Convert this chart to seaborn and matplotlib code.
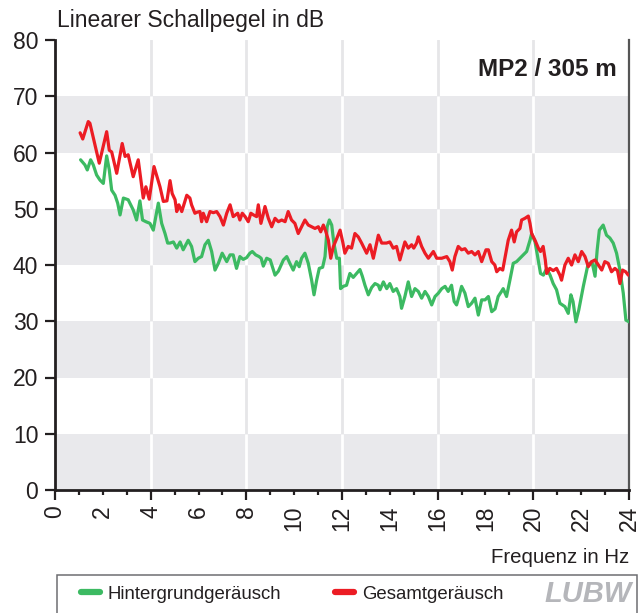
import matplotlib
matplotlib.use("Agg")
import matplotlib.pyplot as plt
from matplotlib.patches import Rectangle
from matplotlib.ticker import MultipleLocator, FuncFormatter
import pandas as pd
import seaborn as sns

# Frequency (Hz) and linear sound level (dB) of the background noise
freq_bg = [1.07, 1.25, 1.35, 1.49, 1.60, 1.74, 1.88, 2.02, 2.16, 2.27,
           2.37, 2.51, 2.62, 2.72, 2.86, 3.06, 3.27, 3.41, 3.55, 3.66,
           3.80, 3.97, 4.11, 4.32, 4.46, 4.60, 4.71, 4.81, 4.95, 5.09,
           5.23, 5.36, 5.57, 5.71, 5.85, 5.99, 6.13, 6.27, 6.41, 6.55,
           6.69, 6.83, 6.99, 7.18, 7.32, 7.45, 7.59, 7.73, 7.87, 8.01,
           8.15, 8.25, 8.39, 8.53, 8.62, 8.71, 8.85, 9.00, 9.20, 9.34,
           9.55, 9.69, 9.82, 9.96, 10.10, 10.21, 10.31, 10.45, 10.59, 10.73,
           10.83, 10.94, 11.05, 11.19, 11.29, 11.38, 11.47, 11.57, 11.66, 11.78,
           11.89, 11.94, 12.05, 12.19, 12.33, 12.47, 12.61, 12.75, 12.85, 12.96,
           13.10, 13.24, 13.38, 13.52, 13.59, 13.73, 13.87, 14.00, 14.14, 14.28,
           14.42, 14.49, 14.63, 14.77, 14.91, 15.05, 15.19, 15.33, 15.47, 15.61,
           15.75, 15.89, 16.03, 16.17, 16.31, 16.44, 16.58, 16.69, 16.79, 16.90,
           17.00, 17.14, 17.28, 17.42, 17.56, 17.70, 17.84, 17.98, 18.12, 18.26,
           18.40, 18.53, 18.67, 18.74, 18.88, 19.02, 19.16, 19.30, 19.44, 19.58,
           19.72, 19.86, 19.93, 20.07, 20.18, 20.30, 20.42, 20.56, 20.70, 20.83,
           20.97, 21.11, 21.32, 21.46, 21.57, 21.66, 21.78, 21.90, 22.09, 22.28,
           22.45, 22.58, 22.67, 22.76, 22.92, 23.06, 23.20, 23.34, 23.48, 23.62,
           23.76, 23.87, 24.00]
level_bg = [58.7, 57.8, 56.9, 58.7, 57.8, 56.0, 55.1, 54.5, 59.4, 56.9,
            53.3, 52.4, 51.0, 48.9, 51.9, 51.6, 49.8, 48.0, 51.4, 48.0,
            47.7, 47.4, 46.2, 51.0, 47.4, 45.6, 43.9, 43.9, 44.1, 43.0,
            44.1, 42.7, 44.4, 43.3, 40.6, 41.2, 41.5, 43.6, 44.4, 42.4,
            39.1, 40.3, 42.1, 40.6, 41.8, 41.8, 39.4, 41.5, 41.0, 41.3,
            42.1, 42.4, 41.8, 41.5, 41.2, 39.8, 41.2, 40.9, 38.2, 38.9,
            40.9, 41.5, 40.3, 39.1, 40.6, 39.7, 41.2, 42.1, 40.3, 37.3,
            34.7, 37.3, 39.4, 39.6, 41.5, 46.8, 48.0, 47.1, 43.9, 41.2,
            41.2, 35.8, 36.2, 36.4, 38.5, 37.8, 38.5, 39.2, 38.0, 36.4,
            34.7, 36.0, 36.7, 36.4, 35.6, 37.0, 35.8, 36.7, 35.3, 35.8,
            34.4, 32.3, 34.4, 37.0, 34.4, 35.8, 35.3, 34.1, 35.3, 34.4,
            32.9, 34.4, 35.0, 35.8, 36.2, 35.3, 36.4, 33.5, 32.9, 34.5,
            36.2, 35.0, 32.6, 33.2, 34.1, 31.1, 33.8, 33.8, 34.4, 31.7,
            32.2, 34.4, 35.3, 35.8, 34.4, 37.3, 40.3, 40.6, 41.2, 41.8,
            42.4, 44.4, 45.6, 44.1, 41.5, 38.5, 38.2, 39.4, 38.2, 36.7,
            35.6, 33.2, 32.6, 31.4, 34.7, 33.5, 29.9, 32.0, 36.2, 40.0,
            40.6, 38.0, 42.7, 46.2, 47.1, 45.3, 44.8, 43.9, 42.1, 39.1,
            35.0, 30.2, 29.9]

# Frequency (Hz) and linear sound level (dB) of the total noise
freq_total = [1.05, 1.16, 1.39, 1.46, 1.85, 2.16, 2.27, 2.37, 2.58, 2.81,
              2.93, 3.06, 3.27, 3.48, 3.69, 3.80, 3.94, 4.14, 4.39, 4.53,
              4.68, 4.81, 4.90, 5.02, 5.09, 5.18, 5.30, 5.51, 5.64, 5.71,
              5.85, 5.95, 6.06, 6.13, 6.20, 6.34, 6.48, 6.62, 6.76, 6.90,
              7.04, 7.18, 7.32, 7.45, 7.64, 7.73, 7.83, 7.95, 8.08, 8.19,
              8.30, 8.43, 8.50, 8.61, 8.70, 8.78, 8.92, 9.06, 9.20, 9.34,
              9.48, 9.62, 9.75, 9.89, 10.03, 10.17, 10.31, 10.45, 10.59, 10.73,
              10.87, 11.01, 11.11, 11.22, 11.32, 11.43, 11.53, 11.64, 11.78, 11.92,
              12.03, 12.12, 12.26, 12.40, 12.54, 12.68, 12.82, 13.03, 13.17, 13.31,
              13.52, 13.66, 13.86, 14.00, 14.14, 14.28, 14.42, 14.63, 14.77, 14.91,
              15.00, 15.12, 15.19, 15.33, 15.47, 15.61, 15.82, 15.96, 16.17, 16.38,
              16.51, 16.61, 16.72, 16.86, 17.00, 17.14, 17.28, 17.42, 17.56, 17.70,
              17.84, 18.02, 18.12, 18.26, 18.39, 18.47, 18.60, 18.72, 18.81, 18.95,
              19.09, 19.20, 19.30, 19.44, 19.51, 19.65, 19.79, 19.86, 19.93, 20.07,
              20.21, 20.30, 20.41, 20.50, 20.56, 20.69, 20.83, 20.97, 21.11, 21.18,
              21.32, 21.46, 21.60, 21.74, 21.88, 22.02, 22.16, 22.30, 22.44, 22.58,
              22.72, 22.86, 22.99, 23.13, 23.27, 23.41, 23.52, 23.62, 23.73, 23.86,
              23.97]
level_total = [63.5, 62.4, 65.5, 65.2, 58.1, 63.7, 60.4, 60.1, 56.3, 61.6,
               59.3, 59.6, 55.7, 58.7, 51.9, 53.9, 51.7, 57.5, 53.9, 51.3,
               51.4, 55.0, 52.7, 51.6, 49.5, 50.7, 49.5, 52.4, 51.9, 50.7,
               49.2, 49.4, 49.5, 47.7, 49.2, 47.7, 49.5, 49.3, 49.5, 48.6,
               47.1, 49.2, 50.7, 48.6, 49.2, 48.0, 49.2, 48.6, 47.7, 49.2,
               48.9, 48.6, 50.7, 47.4, 48.9, 50.4, 48.3, 46.8, 48.3, 47.7,
               48.0, 47.7, 49.5, 48.0, 47.4, 45.6, 46.8, 48.0, 47.1, 46.8,
               46.5, 46.8, 45.9, 47.1, 46.0, 44.4, 41.2, 43.3, 44.7, 46.2,
               44.1, 42.1, 43.3, 43.0, 45.6, 45.0, 43.9, 42.1, 43.6, 41.2,
               45.3, 43.9, 43.9, 44.1, 43.0, 43.3, 40.9, 44.1, 43.0, 43.6,
               43.0, 43.9, 45.0, 43.3, 42.1, 41.2, 42.4, 41.2, 41.2, 41.5,
               40.6, 39.1, 41.5, 43.3, 42.7, 42.9, 42.1, 42.4, 41.8, 42.4,
               40.6, 42.7, 42.7, 40.6, 40.0, 38.8, 39.4, 39.1, 41.2, 44.4,
               46.2, 44.1, 45.9, 46.5, 48.0, 48.3, 48.7, 47.4, 45.6, 44.4,
               43.0, 42.4, 43.3, 40.9, 38.5, 39.4, 39.0, 39.4, 38.2, 37.3,
               40.0, 41.2, 40.0, 41.8, 40.6, 42.4, 41.5, 39.7, 40.6, 40.9,
               40.0, 39.1, 40.6, 40.3, 38.8, 39.4, 39.0, 36.7, 39.1, 38.8,
               38.2]

series_names = ["Hintergrundgeräusch", "Gesamtgeräusch"]
series_colors = ["#3cba62", "#ec1c24"]
y_ticks = list(range(0, 81, 10))

sns.set_theme(style="white")
plt.rcParams["font.family"] = ["Liberation Sans", "DejaVu Sans"]

df = pd.concat([
    pd.DataFrame({"Frequenz": freq_bg, "Pegel": level_bg, "Reihe": series_names[0]}),
    pd.DataFrame({"Frequenz": freq_total, "Pegel": level_total, "Reihe": series_names[1]}),
], ignore_index=True)

W, H = 643, 613
fig = plt.figure(figsize=(W / 100, H / 100), dpi=100)
fig.patch.set_facecolor("white")
ax = fig.add_axes([55 / W, 1 - 490 / H, 574 / W, 450 / H])
ax.set_facecolor("white")

# alternating horizontal bands with vertical guide lines
band_color = "#e9e9ec"
grid_x = [4, 8, 12, 16, 20]
for xv in grid_x:
    ax.axvline(xv, color="#e6e6e8", lw=2, zorder=0)
for lo in range(0, 80, 20):
    ax.axhspan(lo, lo + 10, color=band_color, lw=0, zorder=0.2)
    ax.vlines(grid_x, lo, lo + 10, colors="white", lw=2, zorder=0.3)

sns.lineplot(data=df, x="Frequenz", y="Pegel", hue="Reihe",
             palette=dict(zip(series_names, series_colors)),
             estimator=None, sort=False, lw=2.3, ax=ax, zorder=3)
for line in ax.lines[-2:]:
    line.set_solid_joinstyle("round")
    line.set_solid_capstyle("round")

leg = ax.get_legend()
handles = list(leg.legend_handles)
labels = [t.get_text() for t in leg.get_texts()]
leg.remove()

ax.set_xlim(0, 24)
ax.set_ylim(0, 80)
ax.set_xlabel("")
ax.set_ylabel("")

ax.set_yticks(y_ticks)
ax.xaxis.set_major_locator(MultipleLocator(4))
ax.xaxis.set_minor_locator(MultipleLocator(1))
ax.xaxis.set_major_formatter(FuncFormatter(lambda v, p: f"{int(round(v))}"))
ax.xaxis.set_minor_formatter(
    FuncFormatter(lambda v, p: f"{int(round(v))}" if int(round(v)) % 4 == 2 else ""))

tick_color = "#231f20"
ax.tick_params(axis="x", which="major", direction="out", length=7, width=1.6,
               color=tick_color, labelsize=16.5, labelrotation=90, pad=4,
               labelcolor=tick_color, bottom=True)
ax.tick_params(axis="x", which="minor", direction="out", length=3.5, width=1.6,
               color=tick_color, labelsize=16.5, labelrotation=90, pad=4 + 3.5,
               labelcolor=tick_color, bottom=True)
ax.tick_params(axis="y", which="major", direction="out", length=7, width=1.6,
               color=tick_color, labelsize=16.5, pad=5, labelcolor=tick_color, left=True)

for side in ("left", "bottom"):
    ax.spines[side].set_color(tick_color)
    ax.spines[side].set_linewidth(2)
ax.spines["right"].set_color("#555555")
ax.spines["right"].set_linewidth(1.6)
ax.spines["top"].set_visible(False)

# titles and labels
fig.text(57 / W, 1 - 27 / H, "Linearer Schallpegel in dB", ha="left", va="baseline",
         fontsize=16.5, color=tick_color)
fig.text(617 / W, 1 - 76 / H, "MP2 / 305 m", ha="right", va="baseline",
         fontsize=17.5, fontweight="bold", color=tick_color)
fig.text(629 / W, 1 - 563 / H, "Frequenz in Hz", ha="right", va="baseline",
         fontsize=14.7, color=tick_color)

# legend panel
fig.add_artist(Rectangle((57 / W, -0.05), (637 - 57) / W, (613 - 575) / H + 0.05,
                         transform=fig.transFigure, fill=False,
                         edgecolor="#6d6e71", lw=1.1))
for handle, label, x0 in zip(handles, labels, (81, 335)):
    lg = fig.legend([handle], [label], loc="center left",
                    bbox_to_anchor=(x0 / W, 1 - 594 / H), frameon=False,
                    fontsize=13.4, handlelength=1.0, handletextpad=0.45,
                    borderpad=0, borderaxespad=0, labelcolor=tick_color)
    for ln in lg.get_lines():
        ln.set_linewidth(4.5)
        ln.set_solid_capstyle("round")

fig.text(588 / W, 1 - 594 / H, "LUBW", ha="center", va="center", fontsize=21,
         fontweight="bold", fontstyle="italic", color="#b5b6ba",
         family=["Liberation Sans Narrow", "Liberation Sans", "DejaVu Sans"])

fig.savefig("out.png", dpi=100)
